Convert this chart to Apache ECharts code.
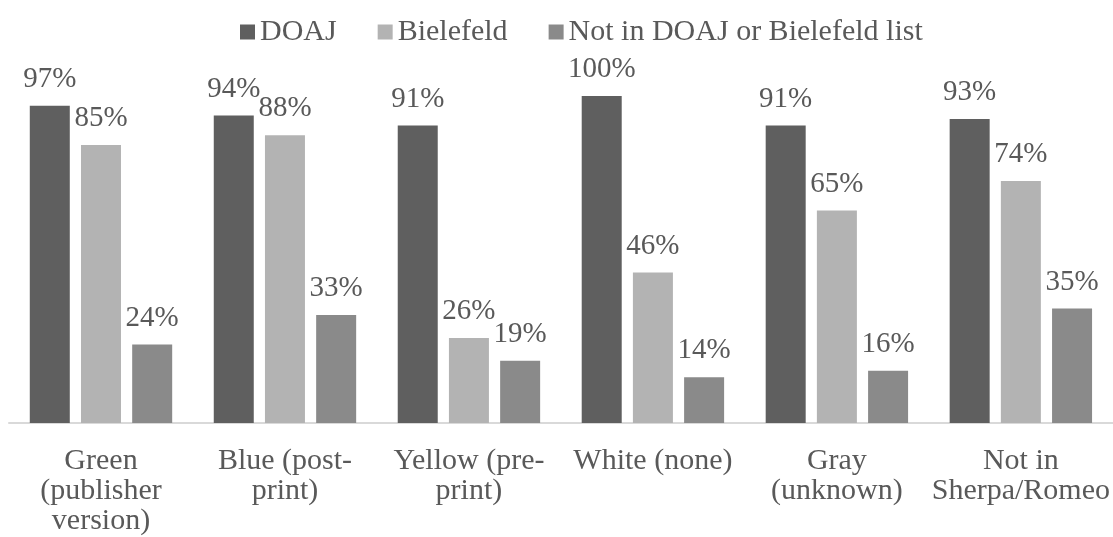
<!DOCTYPE html>
<html>
<head>
<meta charset="utf-8">
<script src="https://cdn.jsdelivr.net/npm/echarts@6/dist/echarts.min.js"></script>
<style>
html,body{margin:0;padding:0;background:#fff;}
#chart{width:1113px;height:537px;}
</style>
</head>
<body>
<div id="chart"></div>
<script>
const categories = [
  "Green\n(publisher\nversion)",
  "Blue (post-\nprint)",
  "Yellow (pre-\nprint)",
  "White (none)",
  "Gray\n(unknown)",
  "Not in\nSherpa/Romeo"
];
const seriesNames = ["DOAJ", "Bielefeld", "Not in DOAJ or Bielefeld list"];
const doaj = [97, 94, 91, 100, 91, 93];
const bielefeld = [85, 88, 26, 46, 65, 74];
const notListed = [24, 33, 19, 14, 16, 35];
const colors = ["#5f5f5f", "#b3b3b3", "#8a8a8a"];

const font = "'Liberation Serif', 'Times New Roman', serif";
const textColor = "#595959";

const chart = echarts.init(document.getElementById('chart'), null, {renderer: 'canvas'});
function mk(name, data, color) {
  return {
    name: name,
    type: 'bar',
    data: data,
    barWidth: 40,
    barGap: '28%',
    itemStyle: {color: color},
    label: {
      show: true,
      position: 'top',
      distance: 12,
      formatter: '{c}%',
      fontFamily: font,
      fontSize: 29,
      color: textColor
    },
    emphasis: {disabled: true},
    animation: false
  };
}
chart.setOption({
  animation: false,
  legend: {
    top: 12,
    left: 235,
    itemWidth: 15,
    itemHeight: 15,
    itemGap: 41,
    icon: 'rect',
    textStyle: {fontFamily: font, fontSize: 30, color: textColor},
    data: seriesNames
  },
  grid: {left: 9, right: 0, top: 96, bottom: 114, containLabel: false},
  xAxis: {
    type: 'category',
    data: categories,
    axisLine: {lineStyle: {color: '#d9d9d9', width: 2}},
    axisTick: {show: false},
    axisLabel: {
      interval: 0,
      margin: 23,
      fontFamily: font,
      fontSize: 30,
      lineHeight: 30,
      color: textColor,
      align: 'center'
    }
  },
  yAxis: {
    type: 'value',
    min: 0,
    max: 100,
    show: false,
    splitLine: {show: false}
  },
  series: [
    mk(seriesNames[0], doaj, colors[0]),
    mk(seriesNames[1], bielefeld, colors[1]),
    mk(seriesNames[2], notListed, colors[2])
  ]
});
</script>
</body>
</html>
